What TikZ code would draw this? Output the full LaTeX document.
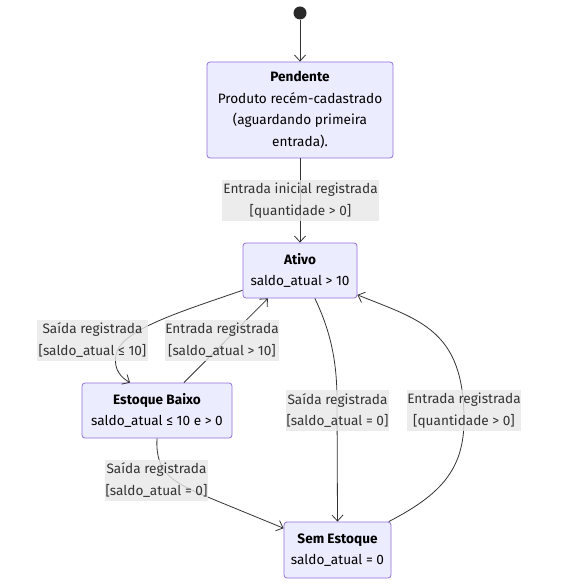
\documentclass[tikz,border=0pt]{standalone}
\usepackage{fontspec}
\setmainfont{Fira Sans}
\usetikzlibrary{arrows.meta}
\definecolor{boxfill}{HTML}{ECECFF}
\definecolor{boxdraw}{HTML}{9370DB}
\definecolor{lblfill}{HTML}{E8E8E8}
\definecolor{ink}{HTML}{333333}
\begin{document}
\begin{tikzpicture}[x=1pt,y=-1pt,
  state/.style={draw=boxdraw, fill=boxfill, rounded corners=3pt, line width=0.8pt,
    align=center, text=black, font=\fontsize{13.6}{21.5}\selectfont, inner sep=0pt},
  lbl/.style={fill=lblfill, fill opacity=0.8, text opacity=1, align=center,
    font=\fontsize{13.6}{21.5}\selectfont, text=ink, inner sep=0pt, minimum height=41pt},
  edge/.style={draw=ink, line width=0.8pt, -{Straight Barb[length=6pt,width=11pt]}}]
\useasboundingbox (0,0) rectangle (566,585);
\fill[white] (0,0) rectangle (566,585);

\node[circle, fill=ink!80!black, minimum size=13pt, inner sep=0pt] (start) at (300,13) {};
\node[state, minimum width=186pt, minimum height=96pt] (pend) at (300,110)
  {\textbf{Pendente}\\Produto recém-cadastrado\\(aguardando primeira\\entrada).};
\node[state, minimum width=114pt, minimum height=55pt] (ativo) at (300,270.5)
  {\textbf{Ativo}\\saldo\_atual > 10};
\node[state, minimum width=150pt, minimum height=55pt] (baixo) at (157,410.5)
  {\textbf{Estoque Baixo}\\saldo\_atual ≤ 10 e > 0};
\node[state, minimum width=107pt, minimum height=56pt] (sem) at (337.5,550)
  {\textbf{Sem Estoque}\\saldo\_atual = 0};

\draw[edge] (start) -- (pend);
\draw[edge] (pend) -- (ativo);
\draw[edge] (ativo.199) .. controls (180,312) and (120,330) .. (116,355)
  .. controls (113,370) and (122,378) .. (baixo.134.5);
\draw[edge] (baixo.46.6) -- (ativo.221.6);
\draw[edge] (ativo.298.6) .. controls (330,330) and (337,360) .. (337,400) -- (sem.north);
\draw[edge] (sem.29) .. controls (440,495) and (464,470) .. (464,420)
  .. controls (464,330) and (420,320) .. (ativo.337.6);
\draw[edge] (baixo.south) .. controls (155,475) and (175,483) .. (210,498) -- (sem.158.6);

\node[lbl, minimum width=157pt] (l0) at (300.5,200.5) {Entrada inicial registrada\\{}[quantidade > 0]};
\node[lbl, minimum width=111pt] (l1) at (92.5,340) {Saída registrada\\{}[saldo\_atual ≤ 10]};
\node[lbl, minimum width=114pt] (l2) at (222,340) {Entrada registrada\\{}[saldo\_atual > 10]};
\node[lbl, minimum width=103pt] (l3) at (337.5,410.5) {Saída registrada\\{}[saldo\_atual = 0]};
\node[lbl, minimum width=114pt] (l4) at (464,410.5) {Entrada registrada\\{}[quantidade > 0]};
\node[lbl, minimum width=103pt] (l5) at (156.5,480) {Saída registrada\\{}[saldo\_atual = 0]};
\end{tikzpicture}
\end{document}
